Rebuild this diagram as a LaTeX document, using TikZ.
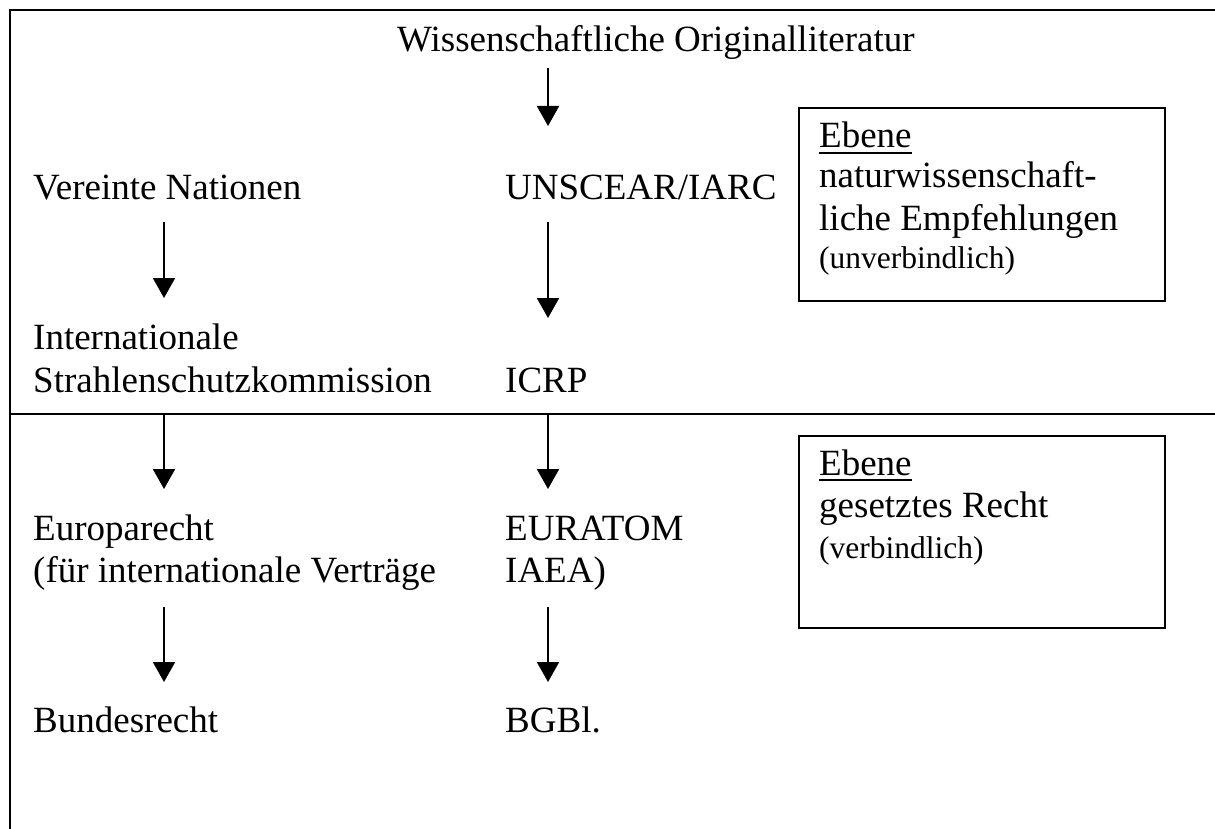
\documentclass[tikz,border=0pt]{standalone}
\usepackage{fontspec}
\setmainfont{Liberation Serif}
\usetikzlibrary{arrows.meta}
\begin{document}
\begin{tikzpicture}[x=1pt,y=-1pt,
  txt/.style={anchor=base west, inner sep=0pt, font=\fontsize{37}{42}\selectfont},
  small/.style={anchor=base west, inner sep=0pt, font=\fontsize{31.5}{38}\selectfont},
  arr/.style={line width=2pt, -{Triangle[length=20pt,width=22pt]}},
  frame/.style={line width=2pt},
  levelbox/.style={draw, line width=2pt, anchor=north west, inner sep=0pt,
                   minimum width=366pt, minimum height=193pt}]
\useasboundingbox (0,0) rectangle (1215,829);
% frame
\draw[frame] (10,829) -- (10,10) -- (1215,10);
\draw[frame] (10,414) -- (1215,414);
% text nodes
\node[txt] (wol)  at (397,52)  {Wissenschaftliche Originalliteratur};
\node[txt] (vn)   at (33,200)  {Vereinte Nationen};
\node[txt] (un)   at (505,200) {UNSCEAR/IARC};
\node[txt] (isk1) at (33,349)  {Internationale};
\node[txt] (isk2) at (33,392)  {Strahlenschutzkommission};
\node[txt] (icrp) at (505,392) {ICRP};
\node[txt] (eu1)  at (33,540)  {Europarecht};
\node[txt] (eu2)  at (33,582)  {(für internationale Verträge};
\node[txt] (eur1) at (505,540) {EURATOM};
\node[txt] (eur2) at (505,582) {IAEA)};
\node[txt] (bund) at (33,732)  {Bundesrecht};
\node[txt] (bgbl) at (505,732) {BGBl.};
% boxes
\node[levelbox] (box1) at (798,107) {};
\node[txt] (e1)  at (819,148) {Ebene};
\draw[line width=2.2pt] ([yshift=-5pt]e1.base west) -- ([yshift=-5pt]e1.base east);
\node[txt] (n1)  at (819,188) {naturwissenschaft-};
\node[txt] (n2)  at (819,230) {liche Empfehlungen};
\node[small] (u1) at (819,268) {(unverbindlich)};
\node[levelbox, minimum height=192pt] (box2) at (798,435) {};
\node[txt] (e2)  at (819,475) {Ebene};
\draw[line width=2.2pt] ([yshift=-5pt]e2.base west) -- ([yshift=-5pt]e2.base east);
\node[txt] (g2)  at (819,517) {gesetztes Recht};
\node[small] (v2) at (819,558) {(verbindlich)};
% arrow endpoints
\coordinate (a0s) at (548,68);  \coordinate (a0e) at (548,126);
\coordinate (a1s) at (164,222); \coordinate (a1e) at (164,298);
\coordinate (a2s) at (548,222); \coordinate (a2e) at (548,318);
\coordinate (a3s) at (164,414); \coordinate (a3e) at (164,489);
\coordinate (a4s) at (548,414); \coordinate (a4e) at (548,489);
\coordinate (a5s) at (164,607); \coordinate (a5e) at (164,682);
\coordinate (a6s) at (548,607); \coordinate (a6e) at (548,682);
\draw[arr] (a0s) -- (a0e);
\draw[arr] (a1s) -- (a1e);
\draw[arr] (a2s) -- (a2e);
\draw[arr] (a3s) -- (a3e);
\draw[arr] (a4s) -- (a4e);
\draw[arr] (a5s) -- (a5e);
\draw[arr] (a6s) -- (a6e);
\end{tikzpicture}
\end{document}
